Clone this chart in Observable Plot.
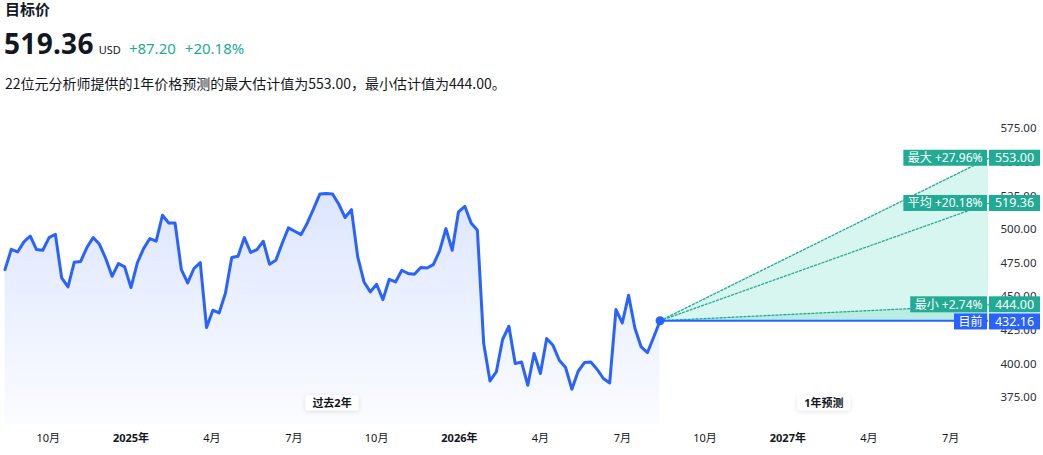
<!DOCTYPE html>
<html>
<head>
<meta charset="utf-8">
<script src="https://cdn.jsdelivr.net/npm/d3@7"></script>
<script src="https://cdn.jsdelivr.net/npm/@observablehq/plot@0.6"></script>
<style>
  html, body { margin: 0; padding: 0; background: #fff; }
  body { font-family: "Noto Sans", "Noto Sans CJK SC", sans-serif; color: #131722; width: 1043px; }
  #hdr { position: relative; height: 100px; }
  #title { position: absolute; left: 5px; top: 0px; font-size: 15px; font-weight: 700; line-height: 18px; font-family: "Noto Sans CJK SC", "Noto Sans", sans-serif; }
  #big { position: absolute; left: 4px; top: 27px; display: flex; align-items: baseline; white-space: nowrap; }
  #big .v { font-size: 28px; font-weight: 700; line-height: 32px; letter-spacing: 0.3px; }
  #big .u { font-size: 11px; margin-left: 5px; }
  #big .c { font-size: 15px; color: #22ab94; margin-left: 9px; }
  #big .c1 { margin-left: 8px; }
  #sub { position: absolute; left: 5px; top: 74px; font-size: 14px; line-height: 18px; font-family: "Noto Sans CJK SC", "Noto Sans", sans-serif; }
  #chart svg { display: block; }
</style>
</head>
<body>
<div id="hdr">
  <div id="title">目标价</div>
  <div id="big"><span class="v">519.36</span><span class="u">USD</span><span class="c c1">+87.20</span><span class="c">+20.18%</span></div>
  <div id="sub">22位元分析师提供的1年价格预测的最大估计值为553.00，最小估计值为444.00。</div>
</div>
<div id="chart"></div>
<script>
// ---- data ----
const lastDate = "2026-08-12";
const forecastEndDate = "2027-08-12";
const domainStart = "2024-08-09";
const histValues = [
  470.2, 485.3, 483.3, 490.8, 495.2, 485.1, 484.6, 494.0, 496.5, 464.0,
  457.3, 475.7, 476.2, 486.6, 494.0, 489.0, 478.4, 465.2, 474.7, 472.2,
  456.8, 475.1, 485.8, 493.3, 491.3, 510.6, 504.9, 504.9, 470.2, 460.3,
  471.0, 475.4, 427.1, 440.0, 438.0, 452.8, 479.2, 480.1, 494.0, 482.9,
  485.1, 491.3, 474.2, 477.1, 489.6, 501.2, 498.7, 496.2, 504.9, 515.6,
  526.5, 526.8, 526.4, 518.8, 508.9, 514.8, 479.6, 461.0, 453.6, 459.3,
  447.9, 463.0, 461.0, 469.7, 467.3, 466.7, 471.7, 471.4, 473.9, 484.1,
  500.7, 484.6, 513.2, 517.3, 504.9, 499.4, 415.2, 387.4, 394.1, 418.2,
  428.1, 400.3, 401.5, 384.2, 407.8, 392.9, 418.9, 413.9, 402.8, 397.4,
  381.2, 394.6, 401.1, 401.5, 396.1, 389.2, 385.9, 440.5, 430.5, 451.1,
  426.8, 412.7, 408.5, 420.1, 432.16
];
const currentPrice = 432.16;
const targetNames = ["最大", "平均", "最小"];
const targetValues = [553.00, 519.36, 444.00];
const targetPcts = ["+27.96%", "+20.18%", "+2.74%"];
const currentName = "目前";
const periodLabels = ["过去2年", "1年预测"];
const yTicks = [375, 400, 425, 450, 475, 500, 525, 550, 575];
const xTickDates = ["2024-10-01","2025-01-01","2025-04-01","2025-07-01","2025-10-01","2026-01-01",
                    "2026-04-01","2026-07-01","2026-10-01","2027-01-01","2027-04-01","2027-07-01"];

// ---- derived tables ----
const end = new Date(lastDate);
const fEnd = new Date(forecastEndDate);
const n = histValues.length;
const hist = histValues.map((v, i) => ({date: d3.utcDay.offset(end, -7 * (n - 1 - i)), v}));
const cur = hist[n - 1];
const maxV = targetValues[0], avgV = targetValues[1], minV = targetValues[2];
const wedge = [{date: cur.date, lo: currentPrice, hi: currentPrice}, {date: fEnd, lo: minV, hi: maxV}];
const band = [{date: cur.date, lo: currentPrice, hi: currentPrice}, {date: fEnd, lo: currentPrice, hi: minV}];
const dotted = targetValues.flatMap((t, k) => [{k, date: cur.date, v: currentPrice}, {k, date: fEnd, v: t}]);
const ticks = xTickDates.map(s => new Date(s));
const yearTicks = ticks.filter(d => d.getUTCMonth() === 0);
const monthTicks = ticks.filter(d => d.getUTCMonth() !== 0);

const TEAL = "#22ab94", BLUE = "#2962ff";
const FONT = "'Noto Sans', 'Noto Sans CJK SC', sans-serif";

function defsMark() {
  const defs = d3.create("svg:defs");
  const g = defs.append("linearGradient").attr("id", "pastGrad").attr("x1", 0).attr("x2", 0).attr("y1", 0).attr("y2", 1);
  g.append("stop").attr("offset", "0%").attr("stop-color", BLUE).attr("stop-opacity", 0.16);
  g.append("stop").attr("offset", "100%").attr("stop-color", BLUE).attr("stop-opacity", 0.02);
  const f = defs.append("filter").attr("id", "pillShadow").attr("x", "-30%").attr("y", "-60%").attr("width", "160%").attr("height", "220%");
  f.append("feDropShadow").attr("dx", 0).attr("dy", 1).attr("stdDeviation", 2).attr("flood-color", "#000").attr("flood-opacity", 0.12);
  return defs.node();
}

const measureCtx = document.createElement("canvas").getContext("2d");
function textW(s, size) { measureCtx.font = `${size}px ${FONT}`; return measureCtx.measureText(s).width; }

function labelsMark(index, scales, values, dims) {
  const g = d3.create("svg:g").attr("font-family", FONT);
  const right = dims.width - dims.marginRight;
  const fsL = 12, fsR = 12.5, h = 16;
  const items = targetNames.map((nm, i) => ({left: `${nm} ${targetPcts[i]}`, val: targetValues[i], color: TEAL}));
  items.push({left: currentName, val: currentPrice, color: BLUE, dy: 1.2});
  for (const it of items) {
    const yc = scales.y(it.val) + (it.dy || 0);
    const w = textW(it.left, fsL) + 9;
    g.append("rect").attr("x", right - 1 - w).attr("y", yc - h / 2).attr("width", w).attr("height", h).attr("fill", it.color);
    g.append("text").attr("x", right - 1 - w / 2).attr("y", yc).attr("dy", "0.35em").attr("text-anchor", "middle")
      .attr("fill", "#fff").attr("font-size", fsL).text(it.left);
    g.append("rect").attr("x", right + 1).attr("y", yc - h / 2).attr("width", 51).attr("height", h).attr("fill", it.color);
    g.append("text").attr("x", right + 1 + 25.5).attr("y", yc).attr("dy", "0.35em").attr("text-anchor", "middle")
      .attr("fill", "#fff").attr("font-size", fsR).text(d3.format(".2f")(it.val));
  }
  // period pills
  const mids = [new Date((hist[0].date.getTime() + cur.date.getTime()) / 2), new Date((cur.date.getTime() + fEnd.getTime()) / 2)];
  const py = dims.height - dims.marginBottom - 21;
  periodLabels.forEach((lab, i) => {
    const x = scales.x(mids[i]);
    const w = textW(lab, 11) + 14;
    g.append("rect").attr("x", x - w / 2).attr("y", py - 7.5).attr("width", w).attr("height", 15).attr("rx", 3)
      .attr("fill", "#fff").attr("filter", "url(#pillShadow)");
    g.append("text").attr("x", x).attr("y", py).attr("dy", "0.35em").attr("text-anchor", "middle")
      .attr("font-size", 11).attr("font-weight", 700).attr("fill", "#131722").text(lab);
  });
  return g.node();
}

const chart = Plot.plot({
  width: 1043,
  height: 355,
  marginTop: 8,
  marginBottom: 31,
  marginLeft: 0,
  marginRight: 55,
  style: {fontFamily: FONT, background: "#fff", overflow: "visible"},
  x: {type: "utc", domain: [new Date(domainStart), fEnd]},
  y: {domain: [355, 590]},
  marks: [
    defsMark,
    Plot.areaY(hist, {x: "date", y1: 355, y2: "v", fill: "url(#pastGrad)"}),
    Plot.areaY(wedge, {x: "date", y1: "lo", y2: "hi", fill: "#d6f6ef"}),
    Plot.areaY(band, {x: "date", y1: "lo", y2: "hi", fill: "#b9ede2"}),
    Plot.line(dotted, {x: "date", y: "v", z: "k", stroke: TEAL, strokeWidth: 1.3, strokeDasharray: "2,2"}),
    Plot.ruleY([currentPrice], {x1: cur.date, x2: fEnd, stroke: BLUE, strokeWidth: 2}),
    Plot.axisY(yTicks, {anchor: "right", tickSize: 0, tickPadding: 12, tickFormat: d3.format(".2f"), fontSize: 11.5, fill: "#2a2e39", label: null}),
    Plot.axisX(monthTicks, {tickSize: 0, tickPadding: 10, tickFormat: d => `${d.getUTCMonth() + 1}月`, fontSize: 11, fill: "#131722", label: null}),
    Plot.axisX(yearTicks, {tickSize: 0, tickPadding: 10, tickFormat: d => `${d.getUTCFullYear()}年`, fontSize: 11, fontWeight: 700, fill: "#131722", label: null}),
    Plot.line(hist, {x: "date", y: "v", stroke: BLUE, strokeWidth: 3, strokeLinejoin: "round", strokeLinecap: "round"}),
    Plot.dot([cur], {x: "date", y: "v", r: 4.5, fill: BLUE}),
    labelsMark
  ]
});
document.getElementById("chart").appendChild(chart);
</script>
</body>
</html>
